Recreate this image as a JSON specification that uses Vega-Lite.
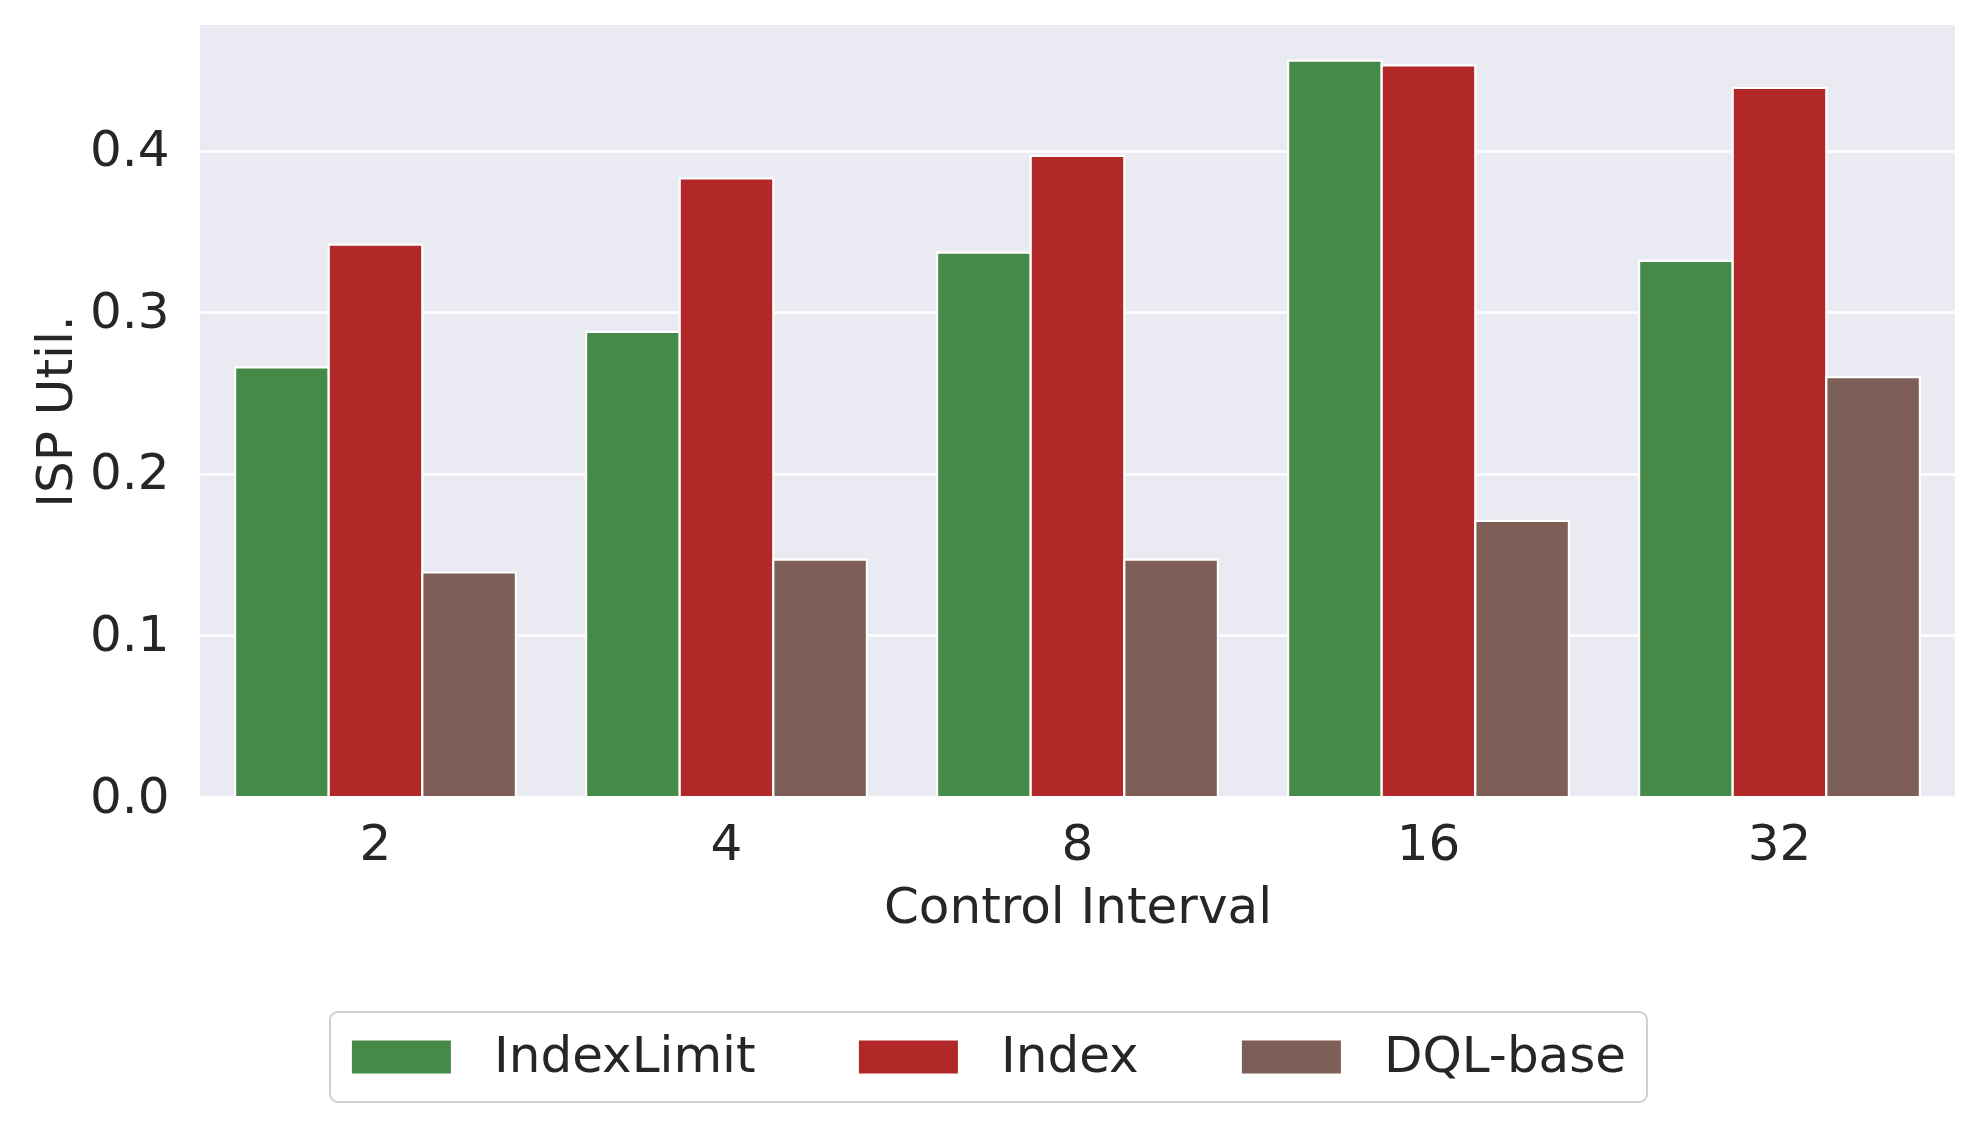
{
  "$schema": "https://vega.github.io/schema/vega-lite/v6.json",
  "width": 1755,
  "height": 772,
  "autosize": {"type": "none"},
  "padding": {"left": 200, "top": 25, "right": 25, "bottom": 335},
  "background": "white",
  "data": {
    "values": [
      {"interval": 2, "method": "IndexLimit", "util": 0.266},
      {"interval": 2, "method": "Index", "util": 0.342},
      {"interval": 2, "method": "DQL-base", "util": 0.139},
      {"interval": 4, "method": "IndexLimit", "util": 0.288},
      {"interval": 4, "method": "Index", "util": 0.383},
      {"interval": 4, "method": "DQL-base", "util": 0.147},
      {"interval": 8, "method": "IndexLimit", "util": 0.337},
      {"interval": 8, "method": "Index", "util": 0.397},
      {"interval": 8, "method": "DQL-base", "util": 0.147},
      {"interval": 16, "method": "IndexLimit", "util": 0.456},
      {"interval": 16, "method": "Index", "util": 0.453},
      {"interval": 16, "method": "DQL-base", "util": 0.171},
      {"interval": 32, "method": "IndexLimit", "util": 0.332},
      {"interval": 32, "method": "Index", "util": 0.439},
      {"interval": 32, "method": "DQL-base", "util": 0.260}
    ]
  },
  "mark": {"type": "bar", "stroke": "white", "strokeWidth": 2.2},
  "encoding": {
    "x": {
      "field": "interval",
      "type": "ordinal",
      "scale": {"paddingInner": 0.2, "paddingOuter": 0.1},
      "axis": {"title": "Control Interval", "labelAngle": 0, "labelPadding": 22, "titlePadding": 13, "grid": false}
    },
    "xOffset": {"field": "method", "type": "nominal", "sort": ["IndexLimit", "Index", "DQL-base"]},
    "y": {
      "field": "util",
      "type": "quantitative",
      "scale": {"domain": [0, 0.478], "nice": false},
      "axis": {"title": "ISP Util.", "values": [0, 0.1, 0.2, 0.3, 0.4], "format": ".1f", "labelPadding": 31, "titlePadding": 8, "grid": true}
    },
    "color": {
      "field": "method",
      "type": "nominal",
      "scale": {"domain": ["IndexLimit", "Index", "DQL-base"], "range": ["#458a48", "#b22828", "#7e5f57"]},
      "legend": {
        "orient": "none",
        "legendX": 130,
        "legendY": 987,
        "direction": "horizontal",
        "title": null,
        "symbolType": "M-1.4,-1H4.6V1H-1.4Z",
        "symbolSize": 1089,
        "symbolStrokeWidth": 0,
        "symbolOpacity": 1,
        "labelFontSize": 50,
        "labelLimit": 0,
        "labelOffset": 94,
        "columnPadding": 101,
        "padding": 20,
        "strokeColor": "#d0d0d0",
        "fillColor": "white",
        "cornerRadius": 8,
        "labelColor": "#262626",
        "labelFont": "DejaVu Sans"
      }
    }
  },
  "config": {
    "font": "DejaVu Sans",
    "view": {"fill": "#eaeaf2", "stroke": null},
    "axis": {
      "domain": false,
      "ticks": false,
      "labelFontSize": 50,
      "titleFontSize": 50,
      "titleFontWeight": "normal",
      "labelColor": "#262626",
      "titleColor": "#262626",
      "labelFont": "DejaVu Sans",
      "titleFont": "DejaVu Sans",
      "gridColor": "white",
      "gridWidth": 2.5,
      "gridOpacity": 1
    },
    "legend": {"strokeWidth": 2}
  }
}
